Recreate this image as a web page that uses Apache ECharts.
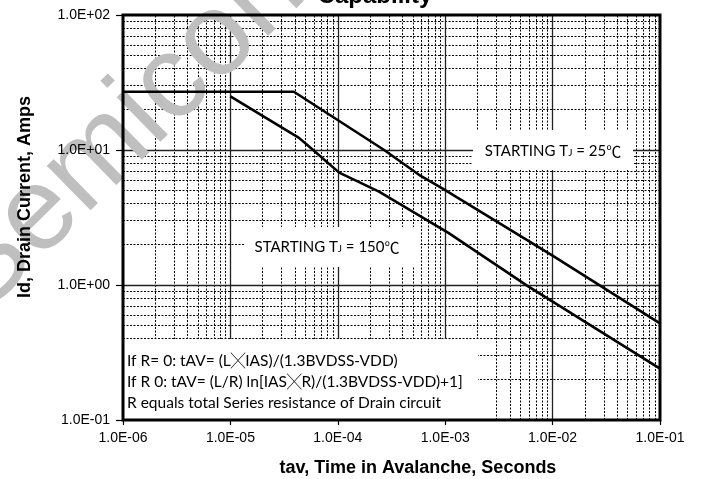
<!DOCTYPE html>
<html>
<head>
<meta charset="utf-8">
<script src="https://cdn.jsdelivr.net/npm/echarts@6/dist/echarts.min.js"></script>
<style>
html,body{margin:0;padding:0;background:#fff;}
#chart{width:704px;height:479px;}
</style>
</head>
<body>
<div id="chart"></div>
<script>
// ---- data ----
const tj25Time    = [1e-6, 3.9e-5, 2.7e-4, 5.7e-4, 9.4e-4, 9.9e-3, 1e-1];
const tj25Current = [27,   27,     10,     6.55,   5.2,    1.66,   0.52];
const tj150Time    = [1e-5, 4.35e-5, 5.4e-5, 1.03e-4, 2.42e-4, 1.08e-3, 5.78e-3, 1e-1];
const tj150Current = [25,   12.3,    10.6,   6.8,     4.92,    2.42,    0.99,    0.24];

// ---- axis ticks ----
const xMajorTicks = [1e-6, 1e-5, 1e-4, 1e-3, 1e-2, 1e-1];
const yMajorTicks = [1e-1, 1e0, 1e1, 1e2];
const minorSteps  = [2, 3, 4, 5, 6, 7, 8, 9];

// ---- texts ----
const titleText = 'Capability';
const xAxisName = 'tav, Time in Avalanche, Seconds';
const yAxisName = 'Id, Drain Current, Amps';
const label25  = '{t|STARTING T}{s|J}{t| = 25}{c|℃}';
const label150 = '{t|STARTING T}{s|J}{t| = 150}{c|℃}';
const formulaLines = [
  '{t|If R= 0: tAV= (L}{x|╳}{t|IAS)/(1.3BVDSS-VDD)}',
  '{t|If R 0: tAV= (L/R) ln[IAS}{x|╳}{t|R)/(1.3BVDSS-VDD)+1]}',
  '{t|R equals total Series resistance of Drain circuit}'
];
const watermarkText = 'Semicon';

function minorValues(decades) {
  const out = [];
  decades.slice(0, -1).forEach(d => minorSteps.forEach(m => out.push(d * m)));
  return out;
}
const xMinorTicks = minorValues(xMajorTicks);
const yMinorTicks = minorValues(yMajorTicks);

function sciLabel(v) {
  const e = Math.round(Math.log10(v));
  return '1.0E' + (e < 0 ? '-' : '+') + String(Math.abs(e)).padStart(2, '0');
}

const chart = echarts.init(document.getElementById('chart'), null, {renderer: 'canvas'});

const minorStyle = {color: '#000', width: 1, type: [2, 1.5]};
const majorStyle = {color: '#222', width: 1.3, type: 'solid'};

function gridSeries(name, xs, ys, style) {
  return {
    name: name, type: 'line', data: [[1e-6, 100]], symbol: 'none',
    lineStyle: {width: 0}, silent: true, z: 1, animation: false,
    markLine: {
      silent: true, symbol: ['none', 'none'], z: 1, animation: false, precision: 20,
      label: {show: false}, lineStyle: style, emphasis: {disabled: true},
      data: xs.map(v => ({xAxis: v})).concat(ys.map(v => ({yAxis: v})))
    }
  };
}

const richLabel = {
  t: {fontFamily: 'Lato', fontSize: 15, color: '#000'},
  s: {fontFamily: 'Lato', fontSize: 10, color: '#000', verticalAlign: 'bottom', padding: [0, 0, 1, 0]},
  c: {fontFamily: 'Noto Sans CJK SC', fontSize: 15, color: '#000'}
};
const richFormula = {
  t: {fontFamily: 'Lato', fontSize: 15.5, color: '#000', lineHeight: 21},
  x: {fontFamily: 'Noto Sans CJK SC', fontSize: 14.5, color: '#000', lineHeight: 21}
};

chart.setOption({
  animation: false,
  backgroundColor: '#fff',
  grid: {left: 123, right: 44, top: 15, bottom: 59, show: true,
         borderColor: '#000', borderWidth: 3, backgroundColor: 'transparent', z: 6},
  xAxis: {
    type: 'log', logBase: 10, min: 1e-6, max: 1e-1, splitNumber: 5, z: 5,
    axisLine: {show: false},
    axisTick: {show: true, length: 5, inside: false, lineStyle: {color: '#000', width: 1.2}},
    minorTick: {show: false},
    splitLine: {show: false},
    axisLabel: {color: '#000', fontFamily: 'Liberation Sans', fontSize: 14, margin: 11,
                formatter: sciLabel, showMinLabel: true, showMaxLabel: true}
  },
  yAxis: {
    type: 'log', logBase: 10, min: 1e-1, max: 1e2, splitNumber: 3, z: 5,
    axisLine: {show: false},
    axisTick: {show: true, length: 7, inside: false, lineStyle: {color: '#000', width: 1.2}},
    splitLine: {show: false},
    axisLabel: {color: '#000', fontFamily: 'Liberation Sans', fontSize: 14, margin: 13,
                formatter: sciLabel, showMinLabel: true, showMaxLabel: true}
  },
  graphic: [
    // watermark
    {type: 'text', x: -41, y: 294, rotation: 44.5 * Math.PI / 180, z: 3, silent: true,
     style: {text: watermarkText, fill: '#bfbfbf', font: '118px "Liberation Sans"',
             textAlign: 'left', textVerticalAlign: 'middle'}},
    // title (cut at the top)
    {type: 'text', x: 375, y: 8, z: 7,
     style: {text: titleText, fill: '#000', font: 'bold 24px "Liberation Sans"',
             textAlign: 'center', textVerticalAlign: 'bottom'}},
    // axis names
    {type: 'text', x: 418, y: 468, z: 7,
     style: {text: xAxisName, fill: '#000', font: 'bold 18px "Liberation Sans"',
             textAlign: 'center', textVerticalAlign: 'middle'}},
    {type: 'text', x: 25, y: 197, rotation: Math.PI / 2, z: 7,
     style: {text: yAxisName, fill: '#000', font: 'bold 18px "Liberation Sans"',
             textAlign: 'center', textVerticalAlign: 'middle'}},
    // label boxes
    {type: 'rect', shape: {x: 473, y: 130, width: 160, height: 40}, z: 2, silent: true,
     style: {fill: '#fff'}},
    {type: 'text', x: 553, y: 151, z: 7,
     style: {text: label25, rich: richLabel, textAlign: 'center', textVerticalAlign: 'middle'}},
    {type: 'rect', shape: {x: 245, y: 227, width: 175, height: 40}, z: 2, silent: true,
     style: {fill: '#fff'}},
    {type: 'text', x: 327, y: 247, z: 7,
     style: {text: label150, rich: richLabel, textAlign: 'center', textVerticalAlign: 'middle'}},
    {type: 'rect', shape: {x: 124, y: 339, width: 354, height: 80}, z: 2, silent: true,
     style: {fill: '#fff'}},
    {type: 'text', x: 127, y: 350, z: 7,
     style: {text: formulaLines.join('\n'), rich: richFormula,
             textAlign: 'left', textVerticalAlign: 'top'}}
  ],
  series: [
    gridSeries('minorGrid', xMinorTicks, yMinorTicks, minorStyle),
    gridSeries('majorGrid', xMajorTicks.slice(1, -1), yMajorTicks.slice(1, -1), majorStyle),
    {name: 'TJ=25', type: 'line', z: 4, symbol: 'none', animation: false,
     lineStyle: {color: '#000', width: 2.6},
     data: tj25Time.map((t, i) => [t, tj25Current[i]])},
    {name: 'TJ=150', type: 'line', z: 4, symbol: 'none', animation: false,
     lineStyle: {color: '#000', width: 2.6},
     data: tj150Time.map((t, i) => [t, tj150Current[i]])}
  ]
});
</script>
</body>
</html>
